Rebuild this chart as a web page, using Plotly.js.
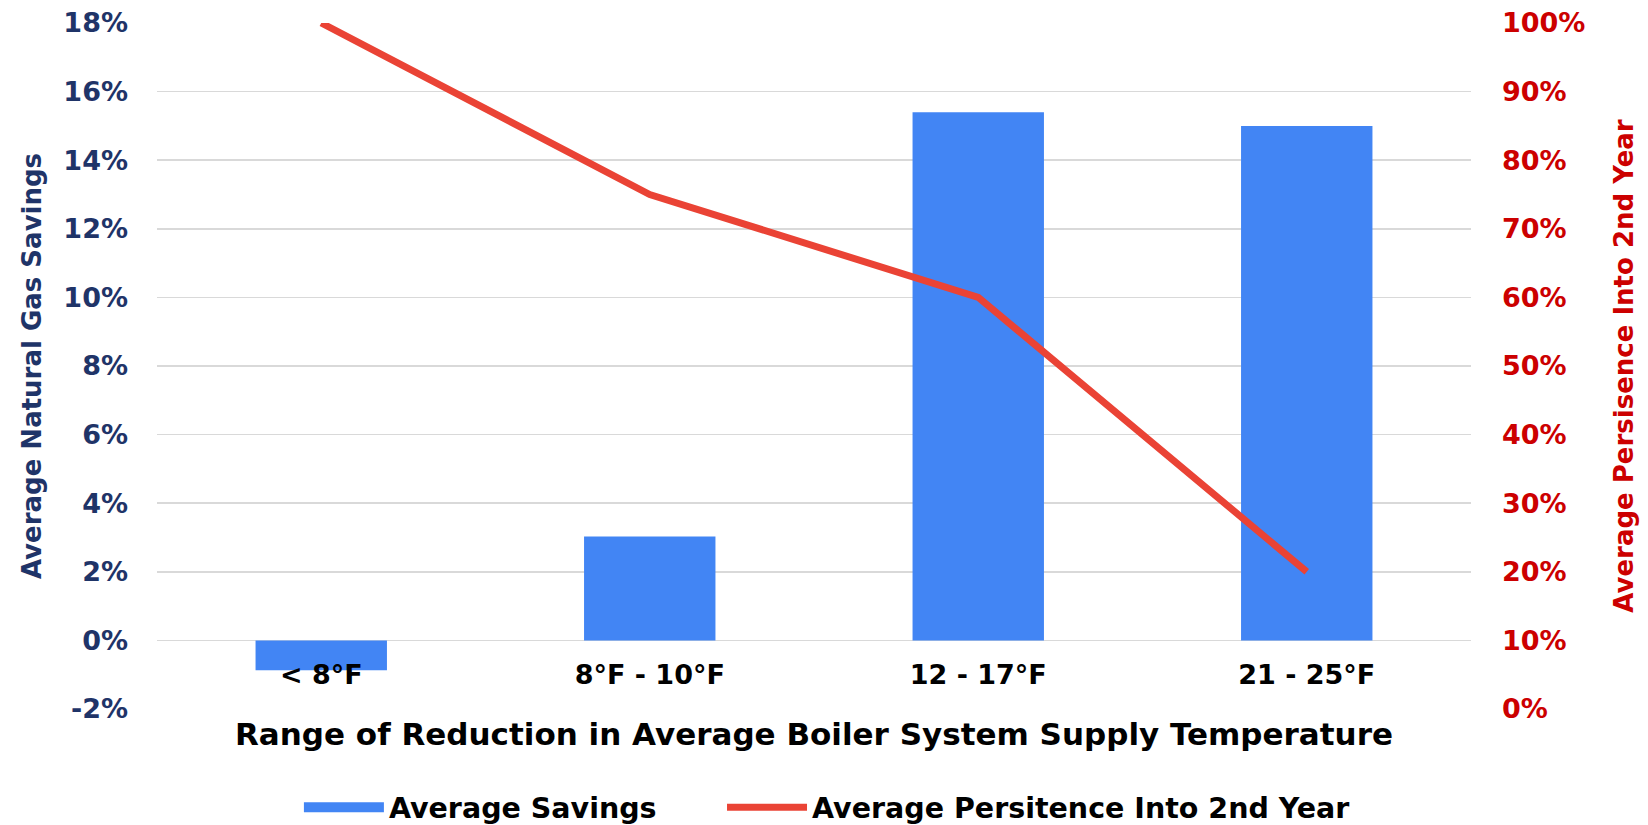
<!DOCTYPE html>
<html>
<head>
<meta charset="utf-8">
<script src="https://cdn.plot.ly/plotly-3.0.1.min.js"></script>
<style>html,body{margin:0;padding:0;background:#fff;}#chart{width:1648px;height:825px;}</style>
</head>
<body>
<div id="chart"></div>
<script>
const categories = ["< 8°F", "8°F - 10°F", "12 - 17°F", "21 - 25°F"];
const savings = [-0.87, 3.03, 15.4, 15.0];
const persistence = [100, 75, 60, 20];
const leftTickVals = [-2, 0, 2, 4, 6, 8, 10, 12, 14, 16, 18];
const leftTickText = ["-2%", "0%", "2%", "4%", "6%", "8%", "10%", "12%", "14%", "16%", "18%"];
const rightTickVals = [0, 10, 20, 30, 40, 50, 60, 70, 80, 90, 100];
const rightTickText = ["0%", "10%", "20%", "30%", "40%", "50%", "60%", "70%", "80%", "90%", "100%"];

const FONT = "DejaVu Sans";
const NAVY = "#1F3468";
const RED = "#CC0000";
const BLUE = "#4285F4";
const LINE_RED = "#EA4335";

const traces = [
  {
    type: "bar", name: "Average Savings", x: categories, y: savings,
    marker: {color: BLUE}, yaxis: "y", showlegend: false
  },
  {
    // legend entry for the bars (wide swatch like the original)
    type: "scatter", mode: "lines", name: "Average Savings",
    x: [null], y: [null], yaxis: "y", legend: "legend",
    line: {color: BLUE, width: 14}, hoverinfo: "skip"
  },
  {
    type: "scatter", mode: "lines", name: "Average Persitence Into 2nd Year",
    x: categories, y: persistence, yaxis: "y2", legend: "legend2",
    line: {color: LINE_RED, width: 7}
  }
];

const legendFont = {family: FONT, size: 28.5, color: "#000", weight: "bold"};

const layout = {
  width: 1648, height: 825,
  margin: {l: 157, r: 177, t: 23, b: 116, autoexpand: false},
  paper_bgcolor: "#fff", plot_bgcolor: "#fff",
  font: {family: FONT, weight: "bold"},
  bargap: 0.6,
  showlegend: true,
  legend: {
    orientation: "h", x: 0.108, xanchor: "left", y: -0.144, yanchor: "middle",
    font: legendFont, itemwidth: 80, bgcolor: "rgba(0,0,0,0)"
  },
  legend2: {
    orientation: "h", x: 0.430, xanchor: "left", y: -0.144, yanchor: "middle",
    font: legendFont, itemwidth: 80, bgcolor: "rgba(0,0,0,0)"
  },
  xaxis: {
    type: "category", anchor: "free", position: 0.1,
    showgrid: false, showline: false, zeroline: false, ticks: "",
    ticklabelstandoff: 16,
    tickfont: {family: FONT, size: 27, color: "#000", weight: "bold"},
    title: {text: "Range of Reduction in Average Boiler System Supply Temperature",
            font: {family: FONT, size: 31, color: "#000", weight: "bold"}, standoff: 33}
  },
  yaxis: {
    range: [-2, 18], tickvals: leftTickVals, ticktext: leftTickText,
    showgrid: true, gridcolor: "#D9D9D9", gridwidth: 1.5,
    zeroline: false, showline: false, ticks: "", ticklabelstandoff: 28,
    tickfont: {family: FONT, size: 27, color: NAVY, weight: "bold"},
    title: {text: "Average Natural Gas Savings",
            font: {family: FONT, size: 26, color: NAVY, weight: "bold"}, standoff: 14}
  },
  yaxis2: {
    range: [0, 100], tickvals: rightTickVals, ticktext: rightTickText,
    overlaying: "y", side: "right", showgrid: false, zeroline: false, showline: false,
    ticks: "", ticklabelstandoff: 30,
    tickfont: {family: FONT, size: 27, color: RED, weight: "bold"},
    title: {text: "Average Persisence Into 2nd Year",
            font: {family: FONT, size: 26, color: RED, weight: "bold"}, standoff: 30}
  }
};

Plotly.newPlot("chart", traces, layout, {displayModeBar: false, staticPlot: true});
</script>
</body>
</html>
